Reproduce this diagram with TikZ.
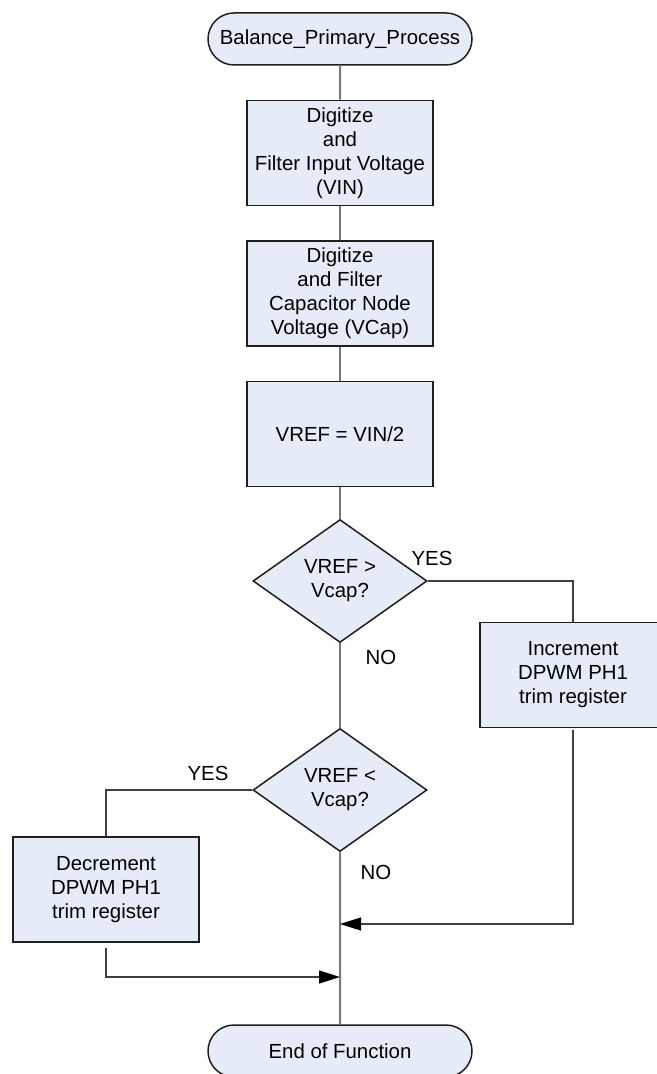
\documentclass[tikz,border=0pt]{standalone}
\usepackage{fontspec}
\setmainfont{Liberation Sans}
\usetikzlibrary{arrows.meta, shapes.misc, shapes.geometric}

\definecolor{boxfill}{RGB}{230,236,247}
\definecolor{boxline}{RGB}{30,30,30}
\definecolor{flowgray}{RGB}{120,120,120}

\begin{document}
\begin{tikzpicture}[
            x=0.5pt, y=-0.5pt, % one unit = one pixel of the sketch, y downwards
            base_style/.style={draw=boxline, line width=0.75pt, fill=boxfill, align=center,
                    font=\fontsize{10.2}{12}\selectfont},
            terminal_node/.style={base_style, rounded rectangle, minimum width=132pt, minimum height=26pt, inner sep=0pt},
            process_box/.style={base_style, rectangle, minimum width=93pt, minimum height=52.5pt, inner sep=1pt},
            decision_node/.style={base_style, diamond, minimum width=87pt, minimum height=61.5pt, inner sep=0pt},
            branch_label/.style={font=\fontsize{10.2}{12}\selectfont},
            main_edge/.style={draw=flowgray, line width=1pt},
            side_edge/.style={draw=black!75, line width=0.6pt},
            join_arrow/.style={side_edge, -{Triangle[length=10.5pt, width=6.5pt, fill=black, color=black]}}
        ]

        \clip (0,0) rectangle (657,1074);

        % Main column
        \node[terminal_node] (start) at (340, 39) {Balance\_Primary\_Process};
        \node[process_box] (digvin) at (340, 153) {Digitize\\and\\Filter Input Voltage\\(VIN)};
        \node[process_box] (digvcap) at (340, 293.5) {Digitize\\and Filter\\Capacitor Node\\Voltage (VCap)};
        \node[process_box] (vref) at (340, 434) {VREF = VIN/2};
        \node[decision_node] (gtcap) at (340, 581) {VREF >\\Vcap?};
        \node[decision_node] (ltcap) at (340, 790) {VREF <\\Vcap?};
        \node[terminal_node] (stop) at (340, 1051) {End of Function};

        % Side branches
        \node[process_box] (incr) at (573, 675) {Increment\\DPWM PH1\\trim register};
        \node[process_box] (decr) at (106, 889.5) {Decrement\\DPWM PH1\\trim register};

        % Branch labels
        \node[branch_label] (yes1) at (432, 558) {YES};
        \node[branch_label] (no1) at (381, 657) {NO};
        \node[branch_label] (yes2) at (208, 773) {YES};
        \node[branch_label] (no2) at (376, 872) {NO};

        % Join points on the main line
        \coordinate (joinr) at (340, 924);
        \coordinate (joinl) at (340, 977);

        % Edges
        \foreach \u/\v in {start/digvin, digvin/digvcap, digvcap/vref, vref/gtcap, gtcap/ltcap, ltcap/stop} {
                \draw[main_edge] (\u) -- (\v);
            }

        \draw[side_edge] (gtcap.east) -| (incr.north);
        \draw[side_edge] (ltcap.west) -| (decr.north);
        \draw[join_arrow] ([yshift=-1pt]incr.south) |- (joinr);
        \draw[join_arrow] ([yshift=-2.5pt]decr.south) |- (joinl);

    \end{tikzpicture}
\end{document}
